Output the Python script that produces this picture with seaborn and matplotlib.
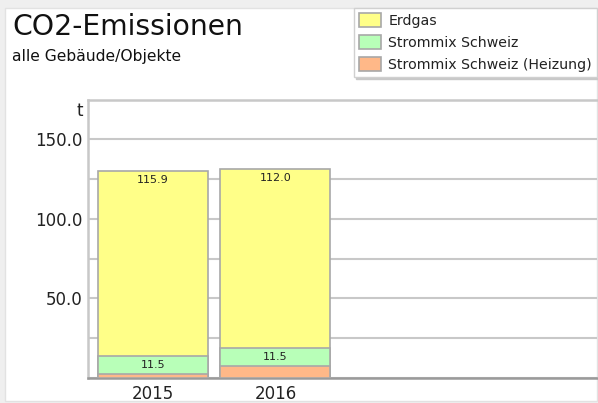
import matplotlib
matplotlib.use("Agg")
import matplotlib.pyplot as plt
from matplotlib.patches import Rectangle
from matplotlib.ticker import MultipleLocator, FixedLocator
import seaborn as sns
import pandas as pd
import numpy as np

years = ["2015", "2016"]
erdgas = [115.9, 112.0]
strommix = [11.5, 11.5]
strommix_heizung = [2.3, 7.4]
series_names = ["Erdgas", "Strommix Schweiz", "Strommix Schweiz (Heizung)"]
colors = ["#ffff88", "#b8ffb8", "#ffb888"]
ytick_values = [50, 100, 150]

sns.set_theme(style="white")
plt.rcParams["font.family"] = ["DejaVu Sans"]

W, H = 598, 403
fig = plt.figure(figsize=(W / 100, H / 100), dpi=100)
fig.patch.set_facecolor("#efefef")
bg = Rectangle((5 / W, 1 - 401 / H), 592 / W, 393 / H,
               transform=fig.transFigure, facecolor="white",
               edgecolor="#e2e2e2", lw=1, zorder=-10)
fig.patches.append(bg)

ax = fig.add_axes([88 / W, 1 - 378 / H, (597 - 88) / W, 278 / H])
ax.set_facecolor("none")
ax.set_zorder(1)

df = pd.DataFrame({"year": years,
                   "erdgas": erdgas,
                   "strom": strommix,
                   "heiz": strommix_heizung})
df["c1"] = df["heiz"]
df["c2"] = df["heiz"] + df["strom"]
df["c3"] = df["c2"] + df["erdgas"]

for col, color in [("c3", colors[0]), ("c2", colors[1]), ("c1", colors[2])]:
    sns.barplot(data=df, x="year", y=col, order=years, color=color,
                width=0.9, edgecolor="#a8a8a8", linewidth=1.2,
                saturation=1, ax=ax, zorder=3)

for i in range(len(years)):
    ax.text(i, df["c3"][i] - 5.4, f"{erdgas[i]:.1f}", ha="center", va="center",
            fontsize=8, color="#222222", zorder=5)
    ax.text(i, df["c1"][i] + strommix[i] / 2, f"{strommix[i]:.1f}", ha="center",
            va="center", fontsize=8, color="#222222", zorder=5)

ax.set_xlim(-0.533, 3.63)
ax.set_ylim(0, 174.5)
ax.yaxis.set_major_locator(FixedLocator(ytick_values))
ax.yaxis.set_minor_locator(MultipleLocator(25))
ax.set_yticklabels([f"{v:.1f}" for v in ytick_values])
ax.grid(axis="y", which="both", color="#c8c8c8", lw=1.5, zorder=0)
ax.set_axisbelow(True)
ax.tick_params(axis="y", which="both", length=0, pad=4, labelsize=12,
               labelcolor="#222222")
ax.tick_params(axis="x", length=0, pad=5, labelsize=12, labelcolor="#222222")
ax.set_xlabel("")
ax.set_ylabel("")

for s in ["left", "top"]:
    ax.spines[s].set_color("#c8c8c8")
    ax.spines[s].set_linewidth(1.8)
ax.spines["bottom"].set_color("#9a9a9a")
ax.spines["bottom"].set_linewidth(1.8)
ax.spines["right"].set_visible(False)

fig.text(80 / W, 1 - 111 / H, "t", ha="center", va="center", fontsize=12,
         color="#222222")

fig.text(12 / W, 1 - 35 / H, "CO2-Emissionen", ha="left", va="baseline",
         fontsize=20.3, color="#111111")
fig.text(12 / W, 1 - 61 / H, "alle Gebäude/Objekte", ha="left",
         va="baseline", fontsize=11.2, color="#111111")

handles = [Rectangle((0, 0), 1, 1, facecolor=c, edgecolor="#a8a8a8", lw=1.2)
           for c in colors]
leg = fig.legend(handles, series_names, loc="upper right",
                 bbox_to_anchor=(597 / W, 1 - 8 / H),
                 bbox_transform=fig.transFigure, fontsize=10.2,
                 frameon=True, fancybox=False,
                 shadow={"color": "#c8c8c8", "alpha": 1},
                 handlelength=1.6, handleheight=1.15, labelspacing=0.5,
                 handletextpad=0.5, borderpad=0.35, borderaxespad=0)
leg.get_frame().set_edgecolor("#d0d0d0")
leg.get_frame().set_linewidth(1)
leg.set_zorder(5)
for t in leg.get_texts():
    t.set_color("#222222")

fig.savefig("out.png", dpi=100, facecolor=fig.get_facecolor())
